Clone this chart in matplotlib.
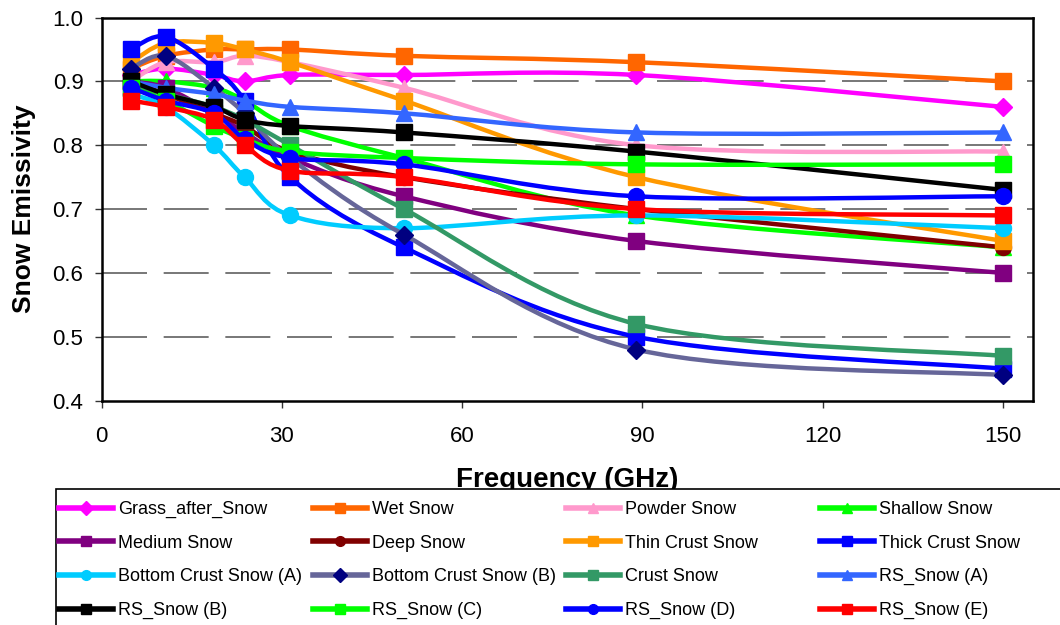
import numpy as np
import matplotlib
matplotlib.use("Agg")
import matplotlib.pyplot as plt
from matplotlib.path import Path
from matplotlib.patches import PathPatch, Rectangle
from matplotlib.lines import Line2D
from matplotlib.ticker import FormatStrFormatter

plt.rcParams['font.family'] = ['Liberation Sans', 'DejaVu Sans']

# channel frequencies (GHz)
freq = [4.9, 10.65, 18.7, 23.8, 31.4, 50.3, 89.0, 150.0]

# emissivity spectra
grass_after_snow = [0.91, 0.92, 0.91, 0.90, 0.91, 0.91, 0.91, 0.86]
wet_snow = [0.92, 0.94, 0.95, 0.95, 0.95, 0.94, 0.93, 0.90]
powder_snow = [0.90, 0.93, 0.93, 0.94, 0.93, 0.89, 0.80, 0.79]
shallow_snow = [0.90, 0.90, 0.89, 0.87, 0.83, 0.78, 0.69, 0.64]
medium_snow = [0.90, 0.89, 0.85, 0.82, 0.78, 0.72, 0.65, 0.60]
deep_snow = [0.90, 0.88, 0.85, 0.83, 0.79, 0.75, 0.70, 0.64]
thin_crust_snow = [0.93, 0.96, 0.96, 0.95, 0.93, 0.87, 0.75, 0.65]
thick_crust_snow = [0.95, 0.97, 0.92, 0.87, 0.75, 0.64, 0.50, 0.45]
bottom_crust_a = [0.88, 0.86, 0.80, 0.75, 0.69, 0.67, 0.69, 0.67]
bottom_crust_b = [0.92, 0.94, 0.89, 0.85, 0.78, 0.66, 0.48, 0.44]
crust_snow = [0.89, 0.88, 0.86, 0.84, 0.80, 0.70, 0.52, 0.47]
rs_snow_a = [0.90, 0.89, 0.88, 0.87, 0.86, 0.85, 0.82, 0.82]
rs_snow_b = [0.90, 0.88, 0.86, 0.84, 0.83, 0.82, 0.79, 0.73]
rs_snow_c = [0.89, 0.87, 0.83, 0.81, 0.79, 0.78, 0.77, 0.77]
rs_snow_d = [0.89, 0.87, 0.85, 0.81, 0.78, 0.77, 0.72, 0.72]
rs_snow_e = [0.87, 0.86, 0.84, 0.80, 0.76, 0.75, 0.70, 0.69]

# label, values, line colour, marker, marker colour
series = [
    ("Grass_after_Snow", grass_after_snow, "#FF00FF", "D", "#FF00FF"),
    ("Wet Snow", wet_snow, "#FF6600", "s", "#FF6600"),
    ("Powder Snow", powder_snow, "#FF99CC", "^", "#FF99CC"),
    ("Shallow Snow", shallow_snow, "#00FF00", "^", "#00FF00"),
    ("Medium Snow", medium_snow, "#800080", "s", "#800080"),
    ("Deep Snow", deep_snow, "#800000", "o", "#800000"),
    ("Thin Crust Snow", thin_crust_snow, "#FF9900", "s", "#FF9900"),
    ("Thick Crust Snow", thick_crust_snow, "#0000FF", "s", "#0000FF"),
    ("Bottom Crust Snow (A)", bottom_crust_a, "#00CCFF", "o", "#00CCFF"),
    ("Bottom Crust Snow (B)", bottom_crust_b, "#666699", "D", "#000080"),
    ("Crust Snow", crust_snow, "#339966", "s", "#339966"),
    ("RS_Snow (A)", rs_snow_a, "#3366FF", "^", "#3366FF"),
    ("RS_Snow (B)", rs_snow_b, "#000000", "s", "#000000"),
    ("RS_Snow (C)", rs_snow_c, "#00FF00", "s", "#00FF00"),
    ("RS_Snow (D)", rs_snow_d, "#0000FF", "o", "#0000FF"),
    ("RS_Snow (E)", rs_snow_e, "#FF0000", "s", "#FF0000"),
]

marker_size = {"s": 11, "D": 9, "o": 11.5, "^": 11.5}


def smooth_path(x, y):
    # Excel style smoothed line: cubic bezier through the points
    pts = np.column_stack([x, y])
    n = len(pts)
    verts = [pts[0]]
    codes = [Path.MOVETO]
    for i in range(n - 1):
        p0 = pts[max(i - 1, 0)]
        p1 = pts[i]
        p2 = pts[i + 1]
        p3 = pts[min(i + 2, n - 1)]
        verts += [p1 + (p2 - p0) / 6, p2 - (p3 - p1) / 6, p2]
        codes += [Path.CURVE4] * 3
    return Path(verts, codes)


fig = plt.figure(figsize=(10.6, 6.25), dpi=100)
ax = fig.add_axes([101.5 / 1060, 1 - 400.6 / 625, 931.5 / 1060, 383.1 / 625])

for k, (label, vals, lc, mk, mc) in enumerate(series):
    ax.add_patch(PathPatch(smooth_path(freq, vals), facecolor="none", edgecolor=lc,
                           lw=3.2, zorder=3 + 2 * k, capstyle="round", joinstyle="round"))
    ax.plot(freq, vals, linestyle="none", marker=mk, ms=marker_size[mk],
            mfc=mc, mec=mc, zorder=4 + 2 * k)

ax.set_xlim(0, 155)
ax.set_ylim(0.4, 1.0)
ax.set_xticks([0, 30, 60, 90, 120, 150])
ax.set_yticks(np.arange(0.4, 1.01, 0.1))
ax.yaxis.set_major_formatter(FormatStrFormatter("%.1f"))
ax.tick_params(direction="out", length=5, width=1, labelsize=16, color="#333333")
ax.tick_params(axis="y", pad=8)
ax.tick_params(axis="x", pad=13)
for gy in [0.5, 0.6, 0.7, 0.8, 0.9]:
    ax.axhline(gy, color="#606060", lw=1.2, dashes=(27, 10), zorder=1)
for sp in ax.spines.values():
    sp.set_linewidth(1.8)
    sp.set_color("black")

ax.set_ylabel("Snow Emissivity", fontsize=19, fontweight="bold", labelpad=12)
fig.text(567 / 1060, 1 - 487 / 625, "Frequency (GHz)", fontsize=20,
         fontweight="bold", ha="center", va="baseline", zorder=1)

# legend box, runs off the right and bottom edge and hides the foot of the x label
fig.add_artist(Rectangle((56 / 1060, -0.1), 1.0, 0.1 + 1 - 489 / 625,
                         transform=fig.transFigure, facecolor="white",
                         edgecolor="black", lw=1.2, zorder=3, clip_on=False))

col_x = [59, 313, 566, 820]
for c in range(4):
    handles = []
    for r in range(4):
        label, vals, lc, mk, mc = series[r * 4 + c]
        handles.append(Line2D([], [], color=lc, lw=4, marker=mk, ms=7,
                              mfc=mc, mec=mc, label=label))
    leg = fig.legend(handles=handles, loc="upper left",
                     bbox_to_anchor=(col_x[c] / 1060, 1 - 501 / 625),
                     frameon=False, fontsize=13, borderpad=0, borderaxespad=0,
                     handlelength=3.0, handletextpad=0.25, labelspacing=0.92)
    leg.set_zorder(5)

fig.savefig("out.png", dpi=100)
